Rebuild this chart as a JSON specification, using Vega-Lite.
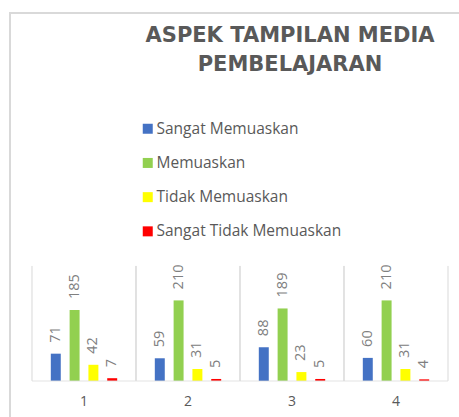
{
  "$schema": "https://vega.github.io/schema/vega-lite/v6.json",
  "autosize": "none",
  "padding": {"left": 10, "top": 13, "right": 0, "bottom": 0},
  "width": 460,
  "height": 420,
  "background": "white",
  "config": {
    "view": {"stroke": "#d9d9d9", "strokeWidth": 2},
    "font": "Open Sans"
  },
  "title": {
    "text": ["ASPEK TAMPILAN MEDIA", "PEMBELAJARAN"],
    "anchor": "middle",
    "frame": "group",
    "orient": "top",
    "offset": -62,
    "dx": 50,
    "font": "DejaVu Sans",
    "fontSize": 21,
    "fontWeight": "bold",
    "color": "#595959",
    "lineHeight": 29
  },
  "data": {
    "values": [
      {"kategori": "1", "jenis": "Sangat Memuaskan", "nilai": 71},
      {"kategori": "1", "jenis": "Memuaskan", "nilai": 185},
      {"kategori": "1", "jenis": "Tidak Memuaskan", "nilai": 42},
      {"kategori": "1", "jenis": "Sangat Tidak Memuaskan", "nilai": 7},
      {"kategori": "2", "jenis": "Sangat Memuaskan", "nilai": 59},
      {"kategori": "2", "jenis": "Memuaskan", "nilai": 210},
      {"kategori": "2", "jenis": "Tidak Memuaskan", "nilai": 31},
      {"kategori": "2", "jenis": "Sangat Tidak Memuaskan", "nilai": 5},
      {"kategori": "3", "jenis": "Sangat Memuaskan", "nilai": 88},
      {"kategori": "3", "jenis": "Memuaskan", "nilai": 189},
      {"kategori": "3", "jenis": "Tidak Memuaskan", "nilai": 23},
      {"kategori": "3", "jenis": "Sangat Tidak Memuaskan", "nilai": 5},
      {"kategori": "4", "jenis": "Sangat Memuaskan", "nilai": 60},
      {"kategori": "4", "jenis": "Memuaskan", "nilai": 210},
      {"kategori": "4", "jenis": "Tidak Memuaskan", "nilai": 31},
      {"kategori": "4", "jenis": "Sangat Tidak Memuaskan", "nilai": 4}
    ]
  },
  "layer": [
    {
      "mark": {"type": "bar"},
      "encoding": {
        "x": {
          "field": "kategori", "type": "nominal",
          "scale": {"domain": ["1", "2", "3", "4"], "paddingInner": 0, "paddingOuter": 0.2115},
          "axis": null
        },
        "xOffset": {
          "field": "jenis", "type": "nominal",
          "scale": {"domain": ["Sangat Memuaskan", "Memuaskan", "Tidak Memuaskan", "Sangat Tidak Memuaskan"], "paddingInner": 0.47, "paddingOuter": 1.2}
        },
        "y": {
          "field": "nilai", "type": "quantitative", "stack": null,
          "scale": {"domain": [-136, 960], "nice": false, "zero": false},
          "axis": null
        },
        "color": {
          "field": "jenis", "type": "nominal",
          "scale": {
            "domain": ["Sangat Memuaskan", "Memuaskan", "Tidak Memuaskan", "Sangat Tidak Memuaskan"],
            "range": ["#4472C4", "#92D050", "#FFFF00", "#FF0000"]
          },
          "legend": {
            "title": null,
            "orient": "none",
            "legendX": 130,
            "legendY": 108,
            "direction": "vertical",
            "symbolType": "square",
            "symbolSize": 100,
            "symbolStrokeWidth": 0,
            "labelFont": "Open Sans",
            "labelFontSize": 15.5,
            "labelColor": "#595959",
            "labelOffset": 1,
            "rowPadding": 17.2,
            "padding": 0,
            "labelLimit": 400
          }
        }
      }
    },
    {
      "mark": {"type": "text", "angle": 270, "align": "left", "baseline": "middle", "dx": 11, "fontSize": 14.5, "color": "#808080"},
      "encoding": {
        "x": {"field": "kategori", "type": "nominal"},
        "xOffset": {"field": "jenis", "type": "nominal"},
        "y": {"field": "nilai", "type": "quantitative"},
        "text": {"field": "nilai", "type": "quantitative"}
      }
    },
    {
      "transform": [{"filter": "datum.jenis === 'Memuaskan'"}],
      "mark": {"type": "rule", "color": "#d9d9d9", "strokeWidth": 1},
      "encoding": {
        "x": {"field": "kategori", "type": "nominal", "bandPosition": 0},
        "y": {"datum": 0, "type": "quantitative"},
        "y2": {"datum": 300}
      }
    },
    {
      "transform": [{"filter": "datum.jenis === 'Memuaskan'"}],
      "mark": {"type": "rule", "color": "#d9d9d9", "strokeWidth": 1},
      "encoding": {
        "x": {"field": "kategori", "type": "nominal", "bandPosition": 1},
        "y": {"datum": 0, "type": "quantitative"},
        "y2": {"datum": 300}
      }
    },
    {
      "transform": [{"filter": "datum.jenis === 'Memuaskan'"}],
      "mark": {"type": "tick", "orient": "horizontal", "color": "#d9d9d9", "thickness": 1, "size": 104},
      "encoding": {
        "x": {"field": "kategori", "type": "nominal"},
        "y": {"datum": 0, "type": "quantitative"}
      }
    },
    {
      "transform": [{"filter": "datum.jenis === 'Memuaskan'"}],
      "mark": {"type": "text", "fontSize": 14, "color": "#595959", "baseline": "middle", "align": "center"},
      "encoding": {
        "x": {"field": "kategori", "type": "nominal"},
        "y": {"datum": -55, "type": "quantitative"},
        "text": {"field": "kategori", "type": "nominal"}
      }
    }
  ]
}
